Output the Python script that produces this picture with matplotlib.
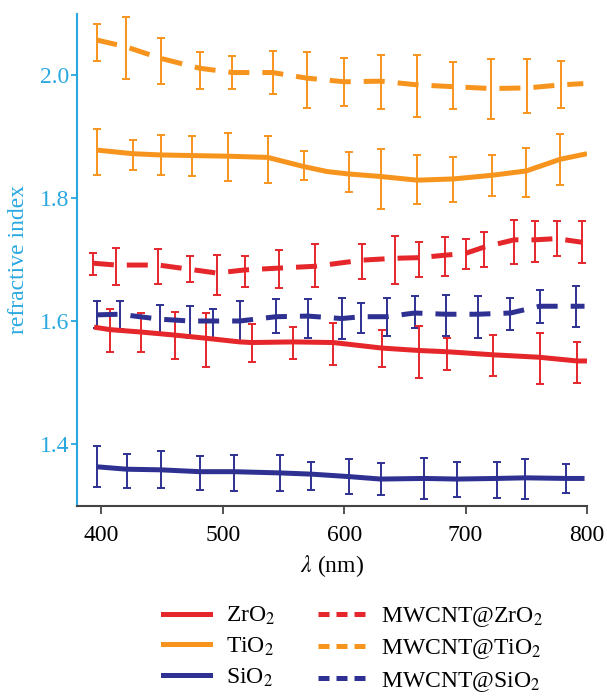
"""Refractive index vs wavelength for oxide and MWCNT@oxide films."""
import numpy as np
import matplotlib
matplotlib.use("Agg")
import matplotlib.pyplot as plt
from matplotlib.lines import Line2D

nan = np.nan

# --- data (wavelength nm, n, error-bar low/high) ---
zro2_x = [394, 407, 433, 461, 486, 514, 524, 558, 591, 631, 662, 685, 723, 761, 792, 800]
zro2_y = [1.590, 1.586, 1.582, 1.577, 1.572, 1.566, 1.565, 1.566, 1.565, 1.556, 1.552, 1.550, 1.545, 1.541, 1.535, 1.535]
zro2_lo = [nan, 1.549, 1.550, 1.538, 1.526, nan, 1.533, 1.538, 1.528, 1.525, 1.508, 1.521, 1.511, 1.498, 1.500, nan]
zro2_hi = [nan, 1.620, 1.613, 1.614, 1.613, nan, 1.595, 1.590, 1.596, 1.586, 1.592, 1.572, 1.577, 1.580, 1.566, nan]

tio2_x = [396, 426, 449, 475, 504, 537, 567, 586, 604, 630, 660, 690, 722, 750, 778, 800]
tio2_y = [1.878, 1.872, 1.870, 1.869, 1.868, 1.866, 1.851, 1.843, 1.839, 1.835, 1.829, 1.831, 1.837, 1.844, 1.863, 1.872]
tio2_lo = [1.838, 1.846, 1.837, 1.836, 1.828, 1.824, 1.830, nan, 1.809, 1.782, 1.790, 1.794, 1.804, 1.801, 1.821, nan]
tio2_hi = [1.912, 1.895, 1.902, 1.901, 1.905, 1.901, 1.876, nan, 1.874, 1.880, 1.870, 1.866, 1.870, 1.882, 1.904, nan]

sio2_x = [396, 421, 449, 481, 509, 547, 573, 604, 630, 666, 693, 726, 749, 783, 798]
sio2_y = [1.363, 1.359, 1.358, 1.355, 1.355, 1.353, 1.351, 1.347, 1.343, 1.344, 1.343, 1.344, 1.345, 1.344, 1.344]
sio2_lo = [1.330, 1.328, 1.329, 1.325, 1.324, 1.324, 1.326, 1.318, 1.317, 1.311, 1.314, 1.313, 1.310, 1.320, nan]
sio2_hi = [1.396, 1.384, 1.388, 1.380, 1.382, 1.382, 1.371, 1.376, 1.369, 1.377, 1.370, 1.371, 1.375, 1.367, nan]

mzro2_x = [393, 412, 447, 473, 495, 518, 546, 576, 615, 642, 662, 683, 700, 715, 740, 757, 775, 796]
mzro2_y = [1.694, 1.691, 1.691, 1.684, 1.678, 1.683, 1.686, 1.689, 1.699, 1.702, 1.703, 1.707, 1.710, 1.720, 1.732, 1.732, 1.734, 1.728]
mzro2_lo = [1.674, 1.659, 1.660, 1.663, 1.642, 1.656, 1.653, 1.656, 1.669, 1.660, 1.672, 1.673, 1.685, 1.688, 1.692, 1.696, 1.705, 1.694]
mzro2_hi = [1.710, 1.718, 1.717, 1.705, 1.708, 1.705, 1.715, 1.725, 1.726, 1.739, 1.728, 1.737, 1.733, 1.744, 1.764, 1.762, 1.762, 1.763]

mtio2_x = [396, 420, 449, 481, 508, 541, 569, 600, 630, 660, 690, 721, 751, 779, 797]
mtio2_y = [2.057, 2.046, 2.027, 2.011, 2.004, 2.004, 1.995, 1.989, 1.990, 1.984, 1.981, 1.978, 1.979, 1.984, 1.986]
mtio2_lo = [2.023, 1.994, 1.986, 1.978, 1.978, 1.969, 1.947, 1.950, 1.945, 1.932, 1.944, 1.928, 1.939, 1.947, nan]
mtio2_hi = [2.083, 2.094, 2.060, 2.038, 2.031, 2.039, 2.038, 2.027, 2.033, 2.033, 2.021, 2.026, 2.026, 2.023, nan]

msio2_x = [396, 415, 448, 473, 492, 514, 544, 570, 598, 614, 635, 658, 684, 710, 737, 761, 791, 798]
msio2_y = [1.610, 1.611, 1.603, 1.600, 1.600, 1.600, 1.607, 1.608, 1.604, 1.607, 1.607, 1.613, 1.611, 1.611, 1.613, 1.624, 1.624, 1.624]
msio2_lo = [1.588, 1.587, 1.581, 1.572, 1.573, 1.568, 1.580, 1.573, 1.570, 1.581, 1.576, 1.588, 1.576, 1.573, 1.585, 1.597, 1.590, nan]
msio2_hi = [1.633, 1.633, 1.626, 1.625, 1.619, 1.633, 1.635, 1.635, 1.638, 1.630, 1.637, 1.640, 1.642, 1.640, 1.637, 1.650, 1.657, nan]

RED = "#e5262a"
ORANGE = "#f7941d"
NAVY = "#2e3192"
AXBLUE = "#29a8e0"
LW = 3.6
DASH = (0, (4.2, 2.6))
FS = 17

plt.rcParams["font.family"] = "serif"
plt.rcParams["font.serif"] = ["Liberation Serif", "DejaVu Serif"]
plt.rcParams["mathtext.fontset"] = "stix"
plt.rcParams["font.size"] = FS


def draw(ax, x, y, lo, hi, color, ls):
    x, y, lo, hi = map(np.asarray, (x, y, lo, hi))
    m = ~np.isnan(lo)
    ax.errorbar(x[m], y[m], yerr=[y[m] - lo[m], hi[m] - y[m]], fmt="none",
                ecolor=color, elinewidth=1.4, capsize=2.8, capthick=1.4, zorder=2)
    ax.plot(x, y, color=color, lw=LW, ls=ls, zorder=3,
            solid_capstyle="butt", dash_capstyle="butt")


fig = plt.figure(figsize=(6.07, 6.96), dpi=100)
ax = fig.add_axes([0.127, 0.2737, 0.840, 0.7069])

draw(ax, sio2_x, sio2_y, sio2_lo, sio2_hi, NAVY, "-")
draw(ax, msio2_x, msio2_y, msio2_lo, msio2_hi, NAVY, DASH)
draw(ax, zro2_x, zro2_y, zro2_lo, zro2_hi, RED, "-")
draw(ax, mzro2_x, mzro2_y, mzro2_lo, mzro2_hi, RED, DASH)
draw(ax, tio2_x, tio2_y, tio2_lo, tio2_hi, ORANGE, "-")
draw(ax, mtio2_x, mtio2_y, mtio2_lo, mtio2_hi, ORANGE, DASH)

ax.set_xlim(380, 800)
ax.set_ylim(1.3, 2.1)
ax.set_xticks([400, 500, 600, 700, 800])
ax.set_yticks([1.4, 1.6, 1.8, 2.0])
ax.yaxis.set_major_formatter(matplotlib.ticker.FormatStrFormatter("%.1f"))

for s in ("top", "right"):
    ax.spines[s].set_visible(False)
ax.spines["left"].set_color(AXBLUE)
ax.spines["left"].set_linewidth(1.5)
ax.spines["bottom"].set_color("#444444")
ax.spines["bottom"].set_linewidth(1.5)
ax.tick_params(axis="y", colors=AXBLUE, length=4.5, width=1.3, pad=1, labelsize=FS)
ax.tick_params(axis="x", colors="#444444", labelcolor="black", length=6, width=1.3,
               pad=8, labelsize=FS)

ax.set_xlabel(r"$\lambda$ (nm)", fontsize=FS, labelpad=5)
ax.set_ylabel("refractive index", fontsize=FS, color=AXBLUE, labelpad=8)

# legend with its own (shorter) dash pattern
leg_dash = (0, (2.2, 1.4))
handles = [
    Line2D([], [], color=RED, lw=LW),
    Line2D([], [], color=ORANGE, lw=LW),
    Line2D([], [], color=NAVY, lw=LW),
    Line2D([], [], color=RED, lw=LW, ls=leg_dash),
    Line2D([], [], color=ORANGE, lw=LW, ls=leg_dash),
    Line2D([], [], color=NAVY, lw=LW, ls=leg_dash),
]
labels = ["ZrO$_2$", "TiO$_2$", "SiO$_2$",
          "MWCNT@ZrO$_2$", "MWCNT@TiO$_2$", "MWCNT@SiO$_2$"]
fig.legend(handles, labels, ncol=2, frameon=False, loc="upper left",
           bbox_to_anchor=(0.268, 0.131), borderpad=0, borderaxespad=0,
           handlelength=2.0, handletextpad=0.68, columnspacing=1.8,
           labelspacing=0.36, fontsize=FS)

fig.savefig("out.png", dpi=100)
